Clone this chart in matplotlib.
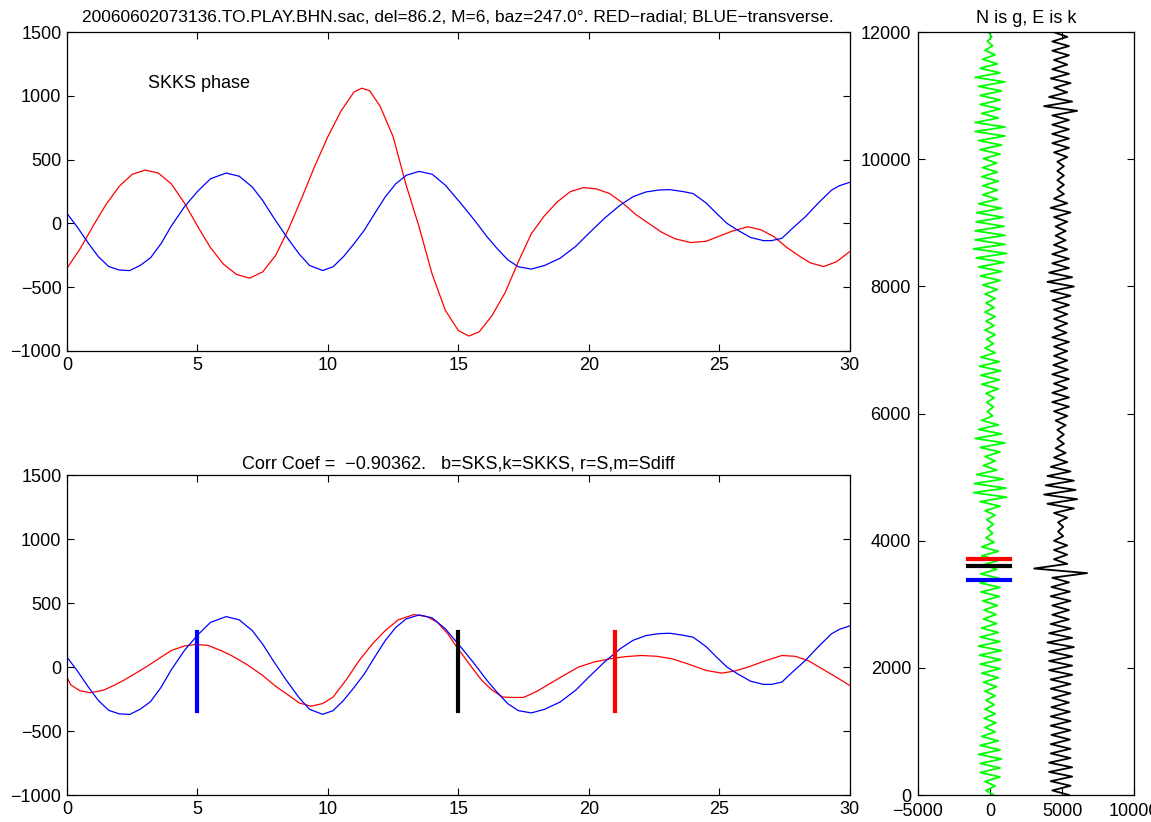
import numpy as np
import matplotlib
matplotlib.use("Agg")
import matplotlib.pyplot as plt

plt.rcParams['font.family'] = ['Liberation Sans', 'DejaVu Sans']
plt.rcParams['font.size'] = 13

# ---- top panel: radial (red) and transverse (blue)
red_t = [0, 0.5, 1.0, 1.5, 2.0, 2.5, 3.0, 3.5, 4.0, 4.5, 5.0, 5.5, 6.0, 6.5, 7.0, 7.5,
         8.0, 8.5, 9.0, 9.5, 10.0, 10.5, 11.0, 11.3, 11.6, 12.0, 12.5, 13.0, 13.5, 14.0,
         14.5, 15.0, 15.4, 15.8, 16.3, 16.8, 17.3, 17.8, 18.3, 18.8, 19.3, 19.8, 20.3,
         20.8, 21.3, 21.8, 22.3, 22.8, 23.3, 23.9, 24.5, 25.0, 25.5, 26.1, 26.6, 27.1,
         27.6, 28.1, 28.5, 29.0, 29.5, 30.0]
red_v = [-351, -200, -20, 150, 290, 385, 418, 395, 310, 160, -20, -190, -320, -400, -429, -380,
         -250, -40, 200, 450, 680, 880, 1030, 1060, 1040, 920, 680, 300, -30, -400,
         -680, -840, -883, -850, -720, -540, -300, -80, 60, 170, 250, 281, 270,
         234, 160, 70, 0, -70, -120, -150, -140, -100, -60, -26, -50, -104,
         -190, -260, -310, -338, -300, -221]

blue_t = [0, 0.4, 0.8, 1.2, 1.6, 2.0, 2.4, 2.8, 3.2, 3.6, 4.0, 4.5, 5.0, 5.5, 6.1, 6.6,
          7.1, 7.5, 7.9, 8.4, 8.9, 9.3, 9.8, 10.2, 10.6, 11.0, 11.4, 11.8, 12.2, 12.6,
          13.0, 13.5, 14.0, 14.5, 15.1, 15.6, 16.1, 16.5, 16.9, 17.3, 17.8, 18.3, 18.9,
          19.5, 20.0, 20.6, 21.2, 21.7, 22.2, 22.7, 23.1, 23.6, 24.0, 24.5, 24.9, 25.3,
          25.7, 26.2, 26.7, 27.0, 27.4, 27.8, 28.3, 28.8, 29.3, 29.6, 30.0]
blue_v = [78, -30, -150, -260, -338, -365, -370, -330, -270, -160, -20, 130, 250, 350, 395, 370,
          286, 180, 52, -100, -240, -330, -369, -340, -260, -160, -52, 80, 208, 310,
          377, 408, 385, 300, 156, 30, -104, -200, -286, -340, -358, -330, -273,
          -180, -78, 40, 143, 210, 247, 262, 265, 250, 234, 160, 78, 0,
          -52, -110, -135, -135, -117, -40, 52, 160, 260, 295, 322]

# ---- bottom panel: rotated radial (red), same transverse (blue)
red2_t = [0, 0.15, 0.5, 0.9, 1.4, 1.8, 2.2, 2.6, 3.1, 3.6, 4.0, 4.5, 4.9, 5.4, 5.9, 6.3,
          6.9, 7.5, 8.0, 8.5, 8.9, 9.35, 9.8, 10.2, 10.7, 11.2, 11.7, 12.2, 12.7, 13.3,
          13.8, 14.2, 14.6, 14.9, 15.4, 15.9, 16.3, 16.7, 17.1, 17.5, 18.0, 18.5, 19.0,
          19.6, 20.2, 20.8, 21.4, 22.0, 22.6, 23.2, 23.8, 24.5, 25.1, 25.6, 26.1, 26.7,
          27.4, 27.9, 28.4, 29.0, 29.5, 30.0]
red2_v = [-80, -140, -185, -200, -180, -143, -100, -52, 10, 78, 130, 165, 177, 170, 130, 91,
          20, -65, -150, -221, -280, -305, -285, -234, -100, 52, 180, 286, 370, 411,
          395, 350, 260, 169, 30, -104, -180, -234, -237, -237, -190, -130, -70,
          0, 40, 65, 82, 91, 85, 65, 25, -26, -47, -30, 0, 45,
          91, 85, 52, -20, -80, -143]

pick_times = [5, 15, 21]
pick_colors = ['b', 'k', 'r']
pick_lo, pick_hi = -340, 275

# ---- right panel: per-cycle amplitude of the long N (green) and E (black) traces,
# listed from sample 0 upward
n_amp = [280, 350, 690, 690, 800, 690, 580, 350, 410, 350, 280, 350, 460, 580,
         690, 740, 800, 690, 580, 460, 410, 510, 640, 690, 640, 460, 580, 580,
         280, 180, 230, 350, 690, 1150, 1100, 920, 460, 350, 690, 1040, 800, 580, 180,
         230, 280, 580, 640, 740, 640, 350, 230, 350, 280, 350, 280, 350, 510,
         690, 800, 970, 1150, 1040, 1040, 970, 920, 800, 510, 510, 580, 510, 460,
         690, 800, 1040, 1040, 580, 690, 690, 800, 1040, 690, 510, 350, 180, 120]
e_amp = [580, 690, 800, 800, 690, 690, 640, 690, 690, 640, 580, 690, 690, 800,
         800, 800, 920, 800, 690, 580, 580, 690, 640, 580, 1840, 460, 460,
         460, 180, 180, 460, 920, 1150, 1040, 920, 690, 460, 350, 230, 230, 350,
         460, 580, 580, 460, 580, 510, 460, 460, 580, 410, 460, 460, 580, 690,
         920, 800, 580, 580, 460, 350, 350, 460, 690, 460, 230, 230, 230, 230,
         460, 580, 580, 580, 580, 1150, 800, 460, 690, 580, 460, 580, 580, 460]
e_offset = 4900
n_samples = 12000
marks_y = [3720, 3610, 3390]
marks_c = ['r', 'k', 'b']


def zigzag(amps, total):
    amps = np.asarray(amps, float)
    vals = np.empty(2 * len(amps))
    vals[0::2] = amps
    vals[1::2] = -amps
    y = np.linspace(0, total, len(vals))
    return vals, y


def matlab_box(ax):
    ax.tick_params(direction='in', top=True, right=True, length=5, width=0.8,
                   labelsize=13, pad=4)
    for s in ax.spines.values():
        s.set_linewidth(0.9)


fig = plt.figure(figsize=(11.51, 8.22), dpi=100)

ax1 = fig.add_axes([0.0582, 0.573, 0.680, 0.388])
ax1.plot(red_t, red_v, color='r', lw=0.9)
ax1.plot(blue_t, blue_v, color='b', lw=0.9)
ax1.set_xlim(0, 30)
ax1.set_ylim(-1000, 1500)
ax1.set_xticks(range(0, 31, 5))
ax1.set_yticks(range(-1000, 1501, 500))
ax1.text(3.1, 1100, 'SKKS phase', fontsize=13, va='center')
ax1.set_title('20060602073136.TO.PLAY.BHN.sac, del=86.2, M=6, baz=247.0°. '
              'RED\u2212radial; BLUE\u2212transverse.', fontsize=12.5, pad=7)
matlab_box(ax1)

ax2 = fig.add_axes([0.0582, 0.0328, 0.680, 0.389])
ax2.plot(red2_t, red2_v, color='r', lw=0.9)
ax2.plot(blue_t, blue_v, color='b', lw=0.9)
for t, c in zip(pick_times, pick_colors):
    ax2.plot([t, t], [pick_lo, pick_hi], color=c, lw=3)
ax2.set_xlim(0, 30)
ax2.set_ylim(-1000, 1500)
ax2.set_xticks(range(0, 31, 5))
ax2.set_yticks(range(-1000, 1501, 500))
ax2.set_title('Corr Coef =  \u22120.90362.   b=SKS,k=SKKS, r=S,m=Sdiff',
              fontsize=13, pad=5)
matlab_box(ax2)

ax3 = fig.add_axes([0.7976, 0.0328, 0.1877, 0.928])
nx, ny = zigzag(n_amp, n_samples)
ex, ey = zigzag(e_amp, n_samples)
ax3.plot(nx, ny, color='#00ff00', lw=1.3)
ax3.plot(ex + e_offset, ey, color='k', lw=1.3)
for yv, c in zip(marks_y, marks_c):
    ax3.plot([-1500, 1400], [yv, yv], color=c, lw=3)
ax3.set_xlim(-5000, 10000)
ax3.set_ylim(0, 12000)
ax3.set_xticks([-5000, 0, 5000, 10000])
ax3.set_yticks(range(0, 12001, 2000))
ax3.set_title('N is g, E is k', fontsize=13, pad=7)
matlab_box(ax3)
ax3.tick_params(axis='x', pad=6)
ax3.tick_params(axis='y', pad=5)

fig.savefig('out.png', dpi=100)
